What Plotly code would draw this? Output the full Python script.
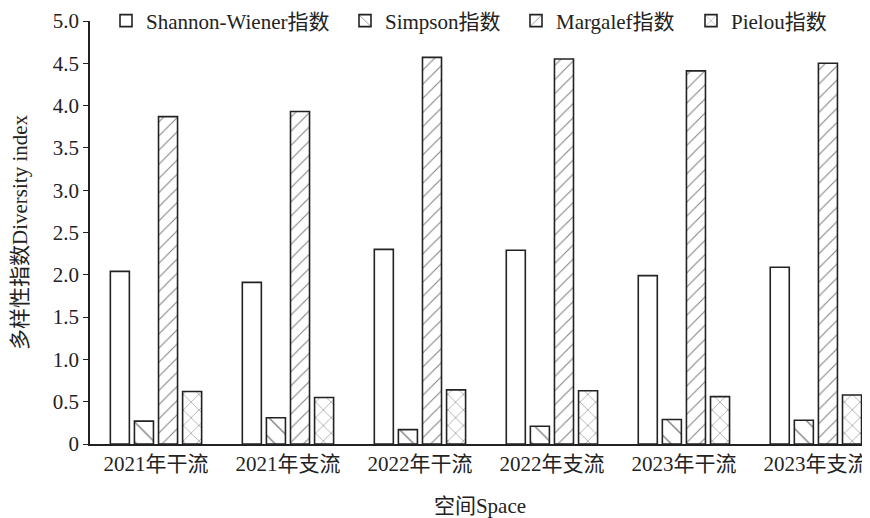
import plotly.graph_objects as go

categories = ["2021年干流", "2021年支流", "2022年干流", "2022年支流", "2023年干流", "2023年支流"]
shannon = [2.04, 1.91, 2.30, 2.29, 1.99, 2.09]
simpson = [0.27, 0.31, 0.17, 0.21, 0.29, 0.28]
margalef = [3.87, 3.93, 4.57, 4.55, 4.41, 4.50]
pielou = [0.62, 0.55, 0.64, 0.63, 0.56, 0.58]
series_names = ["Shannon-Wiener指数", "Simpson指数", "Margalef指数", "Pielou指数"]
ytick_vals = [0, 0.5, 1.0, 1.5, 2.0, 2.5, 3.0, 3.5, 4.0, 4.5, 5.0]
ytick_text = ["0", "0.5", "1.0", "1.5", "2.0", "2.5", "3.0", "3.5", "4.0", "4.5", "5.0"]

FONT = "Liberation Serif, Noto Sans CJK SC"
FS = 21
W, H = 862, 510  # page body adds an 8px offset
shapes = ["", "\\", "/", "x"]
sizes = [8, 14, 10, 11]
data = [shannon, simpson, margalef, pielou]
legend_ids = ["legend", "legend2", "legend3", "legend4"]
legend_text_starts = [139, 378, 549, 724]  # figure px where each legend text starts

fig = go.Figure()
for name, vals, shp, sz, lid in zip(series_names, data, shapes, sizes, legend_ids):
    fig.add_trace(go.Bar(
        x=categories, y=vals, name=name, legend=lid,
        marker=dict(color="white",
                    line=dict(color="#222", width=1.6),
                    pattern=dict(shape=shp, fgcolor="#000", bgcolor="white", size=sz, solidity=0.1)),
    ))

legend_layouts = {}
for lid, ts in zip(legend_ids, legend_text_starts):
    legend_layouts[lid] = dict(
        orientation="h", x=(ts - 41) / W, y=1 - 13 / H, xanchor="left", yanchor="middle",
        xref="container", yref="container",
        font=dict(family=FONT, size=FS, color="#222"), bgcolor="rgba(0,0,0,0)",
        itemwidth=30, tracegroupgap=0)

fig.update_layout(
    width=W, height=H,
    margin=dict(l=82, r=0, t=13, b=74, autoexpand=False),
    paper_bgcolor="white", plot_bgcolor="white",
    barmode="group", bargap=0.27, bargroupgap=0.21,
    font=dict(family=FONT, size=FS, color="#222"),
    showlegend=True,
    xaxis=dict(showline=True, linecolor="#222", linewidth=1.5, ticks="", range=[-0.5, 5.41],
               automargin=False,
               title=dict(text="空间Space", font=dict(family=FONT, size=FS), standoff=24),
               tickfont=dict(family=FONT, size=FS, color="#222"), showgrid=False),
    yaxis=dict(showline=True, linecolor="#222", linewidth=1.5, ticks="outside", ticklen=5,
               tickcolor="#222", range=[0, 5.0], tickvals=ytick_vals, ticktext=ytick_text,
               showgrid=False, zeroline=False, automargin=False,
               title=dict(text="多样性指数Diversity index", font=dict(family=FONT, size=FS), standoff=21),
               tickfont=dict(family=FONT, size=FS, color="#222")),
    **legend_layouts,
)

fig.write_html("out.html")
